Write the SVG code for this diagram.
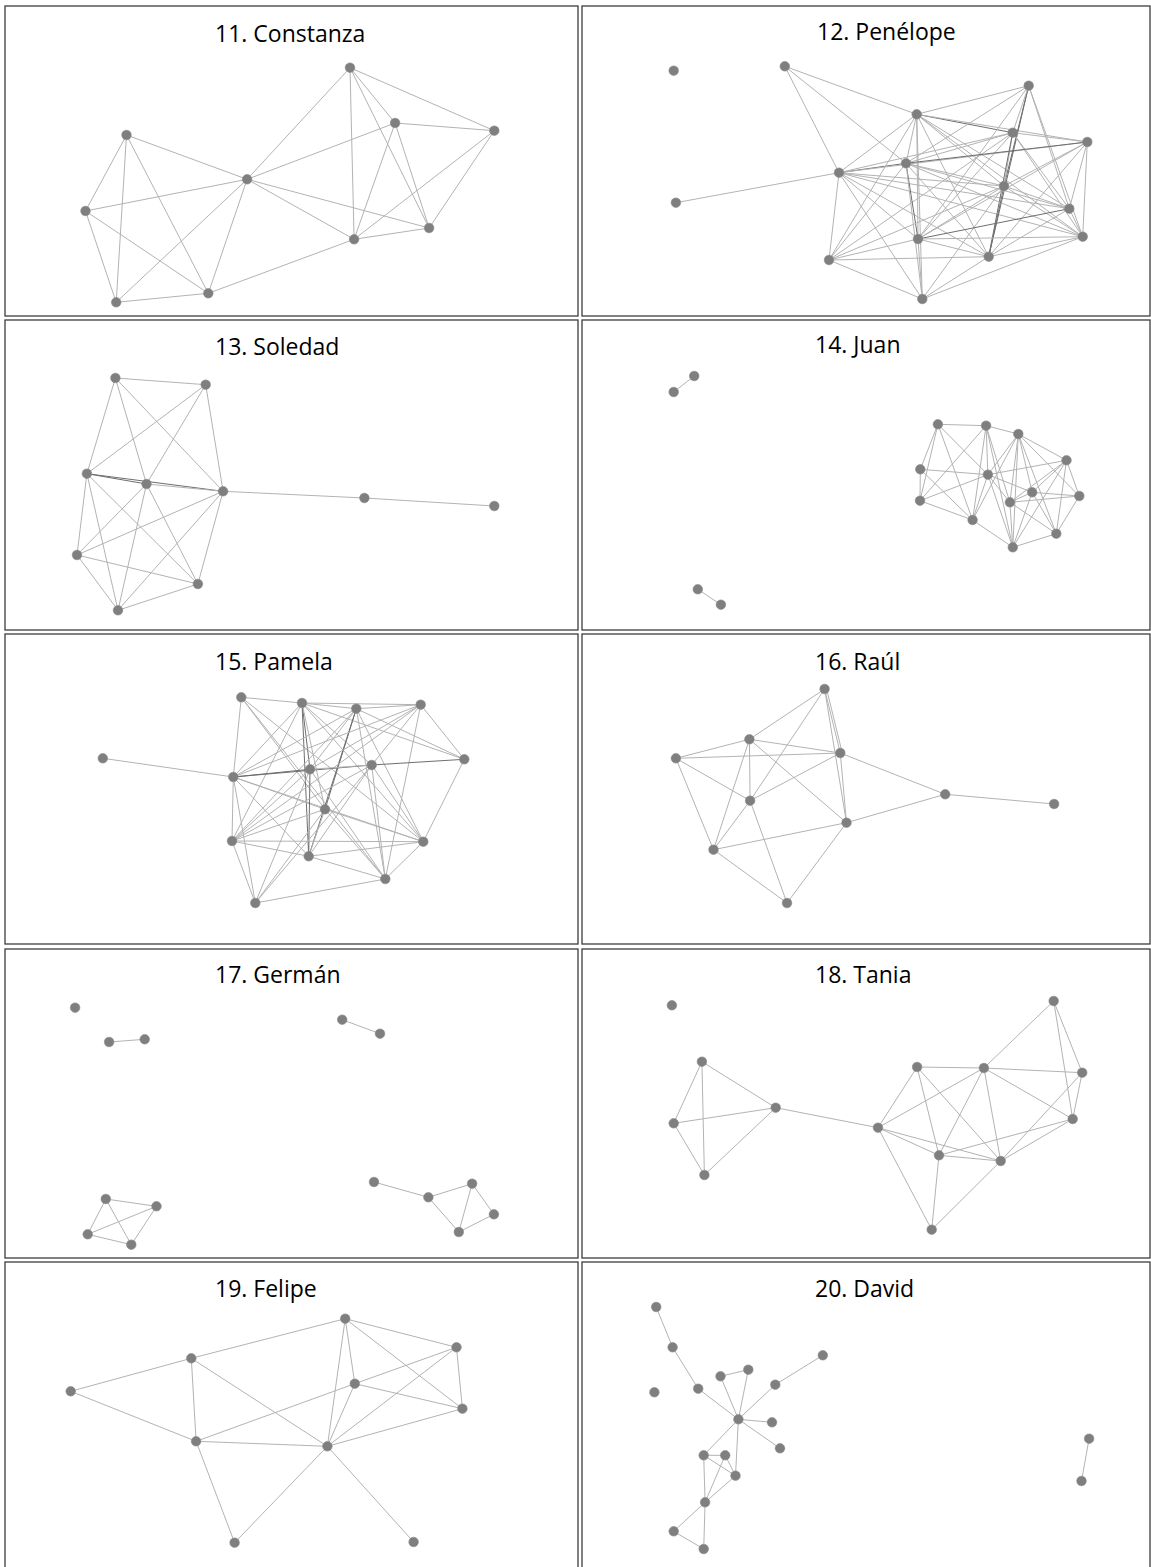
<svg xmlns="http://www.w3.org/2000/svg" width="1151" height="1567" viewBox="0 0 1151 1567">
<style>
.frame{fill:none;stroke:#3c3c3c;stroke-width:1.3}
.t{font-family:"Open Sans","Liberation Sans",sans-serif;font-size:23px;fill:#000}
.edges line{stroke:#b3b3b3;stroke-width:1}
.edges line.d{stroke:#6e6e6e}
.n{fill:#7f7f7f;stroke:#8a8a8a;stroke-width:0.6}
</style>
<rect width="1151" height="1567" fill="#fff"/>
<g id="frames">
<rect class="frame" x="5" y="6" width="573" height="310"/>
<rect class="frame" x="582" y="6" width="568" height="310"/>
<rect class="frame" x="5" y="320" width="573" height="310"/>
<rect class="frame" x="582" y="320" width="568" height="310"/>
<rect class="frame" x="5" y="634" width="573" height="310"/>
<rect class="frame" x="582" y="634" width="568" height="310"/>
<rect class="frame" x="5" y="949" width="573" height="309"/>
<rect class="frame" x="582" y="949" width="568" height="309"/>
<rect class="frame" x="5" y="1262" width="573" height="310"/>
<rect class="frame" x="582" y="1262" width="568" height="310"/>
</g>
<g id="titles">
<text class="t" x="215" y="42">11. Constanza</text>
<text class="t" x="817" y="40">12. Penélope</text>
<text class="t" x="215" y="355">13. Soledad</text>
<text class="t" x="815" y="353">14. Juan</text>
<text class="t" x="215" y="670">15. Pamela</text>
<text class="t" x="815" y="670">16. Raúl</text>
<text class="t" x="215" y="983">17. Germán</text>
<text class="t" x="815" y="983">18. Tania</text>
<text class="t" x="215" y="1297">19. Felipe</text>
<text class="t" x="815" y="1297">20. David</text>
</g>
<g id="connectors" class="edges">
<!-- 11 Constanza -->
<line x1="350" y1="67.7" x2="247.1" y2="179.3"/>
<line x1="350" y1="67.7" x2="354.1" y2="239.3"/>
<line x1="350" y1="67.7" x2="395.1" y2="123"/>
<line x1="350" y1="67.7" x2="494.3" y2="130.7"/>
<line x1="350" y1="67.7" x2="429.1" y2="228"/>
<line x1="395.1" y1="123" x2="494.3" y2="130.7"/>
<line x1="395.1" y1="123" x2="247.1" y2="179.3"/>
<line x1="395.1" y1="123" x2="354.1" y2="239.3"/>
<line x1="395.1" y1="123" x2="429.1" y2="228"/>
<line x1="494.3" y1="130.7" x2="354.1" y2="239.3"/>
<line x1="494.3" y1="130.7" x2="429.1" y2="228"/>
<line x1="247.1" y1="179.3" x2="354.1" y2="239.3"/>
<line x1="247.1" y1="179.3" x2="429.1" y2="228"/>
<line x1="354.1" y1="239.3" x2="429.1" y2="228"/>
<line x1="354.1" y1="239.3" x2="208.3" y2="293.3"/>
<line x1="126.5" y1="135" x2="247.1" y2="179.3"/>
<line x1="126.5" y1="135" x2="85.5" y2="211"/>
<line x1="126.5" y1="135" x2="116.2" y2="302.3"/>
<line x1="126.5" y1="135" x2="208.3" y2="293.3"/>
<line x1="85.5" y1="211" x2="247.1" y2="179.3"/>
<line x1="85.5" y1="211" x2="208.3" y2="293.3"/>
<line x1="85.5" y1="211" x2="116.2" y2="302.3"/>
<line x1="247.1" y1="179.3" x2="116.2" y2="302.3"/>
<line x1="247.1" y1="179.3" x2="208.3" y2="293.3"/>
<line x1="116.2" y1="302.3" x2="208.3" y2="293.3"/>
<!-- 12 Penelope -->
<line x1="784.8" y1="66.3" x2="916.7" y2="114.3"/>
<line x1="784.8" y1="66.3" x2="839" y2="172.7"/>
<line x1="784.8" y1="66.3" x2="906" y2="163.3"/>
<line x1="675.9" y1="202.7" x2="839" y2="172.7"/>
<line x1="839" y1="172.7" x2="916.7" y2="114.3"/>
<line class="d" x1="839" y1="172.7" x2="906" y2="163.3"/>
<line x1="839" y1="172.7" x2="1012.7" y2="132.7"/>
<line x1="839" y1="172.7" x2="1004" y2="186"/>
<line x1="839" y1="172.7" x2="1069.3" y2="208.7"/>
<line x1="839" y1="172.7" x2="1082.7" y2="236.7"/>
<line x1="839" y1="172.7" x2="918" y2="239"/>
<line x1="839" y1="172.7" x2="988.7" y2="256.7"/>
<line x1="839" y1="172.7" x2="829" y2="260"/>
<line x1="839" y1="172.7" x2="922.3" y2="299"/>
<line x1="839" y1="172.7" x2="1087.3" y2="142"/>
<line x1="916.7" y1="114.3" x2="1028.7" y2="85.7"/>
<line class="d" x1="916.7" y1="114.3" x2="1012.7" y2="132.7"/>
<line x1="916.7" y1="114.3" x2="1087.3" y2="142"/>
<line x1="916.7" y1="114.3" x2="918" y2="239"/>
<line x1="916.7" y1="114.3" x2="988.7" y2="256.7"/>
<line x1="916.7" y1="114.3" x2="922.3" y2="299"/>
<line x1="916.7" y1="114.3" x2="829" y2="260"/>
<line x1="916.7" y1="114.3" x2="1004" y2="186"/>
<line x1="916.7" y1="114.3" x2="1069.3" y2="208.7"/>
<line x1="916.7" y1="114.3" x2="1082.7" y2="236.7"/>
<line x1="916.7" y1="114.3" x2="906" y2="163.3"/>
<line x1="1028.7" y1="85.7" x2="906" y2="163.3"/>
<line x1="1028.7" y1="85.7" x2="918" y2="239"/>
<line class="d" x1="1028.7" y1="85.7" x2="1004" y2="186"/>
<line class="d" x1="1028.7" y1="85.7" x2="988.7" y2="256.7"/>
<line x1="1028.7" y1="85.7" x2="1069.3" y2="208.7"/>
<line x1="1028.7" y1="85.7" x2="1082.7" y2="236.7"/>
<line x1="1028.7" y1="85.7" x2="1012.7" y2="132.7"/>
<line x1="1012.7" y1="132.7" x2="1087.3" y2="142"/>
<line x1="1012.7" y1="132.7" x2="906" y2="163.3"/>
<line x1="1012.7" y1="132.7" x2="1004" y2="186"/>
<line x1="1012.7" y1="132.7" x2="1069.3" y2="208.7"/>
<line x1="1012.7" y1="132.7" x2="1082.7" y2="236.7"/>
<line x1="1012.7" y1="132.7" x2="918" y2="239"/>
<line class="d" x1="1012.7" y1="132.7" x2="988.7" y2="256.7"/>
<line x1="1012.7" y1="132.7" x2="829" y2="260"/>
<line class="d" x1="1087.3" y1="142" x2="906" y2="163.3"/>
<line x1="1087.3" y1="142" x2="1004" y2="186"/>
<line x1="1087.3" y1="142" x2="1069.3" y2="208.7"/>
<line x1="1087.3" y1="142" x2="1082.7" y2="236.7"/>
<line x1="1087.3" y1="142" x2="918" y2="239"/>
<line x1="1087.3" y1="142" x2="988.7" y2="256.7"/>
<line x1="906" y1="163.3" x2="1004" y2="186"/>
<line x1="906" y1="163.3" x2="1069.3" y2="208.7"/>
<line x1="906" y1="163.3" x2="1082.7" y2="236.7"/>
<line class="d" x1="906" y1="163.3" x2="918" y2="239"/>
<line x1="906" y1="163.3" x2="988.7" y2="256.7"/>
<line x1="906" y1="163.3" x2="829" y2="260"/>
<line x1="906" y1="163.3" x2="922.3" y2="299"/>
<line x1="1004" y1="186" x2="1069.3" y2="208.7"/>
<line x1="1004" y1="186" x2="1082.7" y2="236.7"/>
<line x1="1004" y1="186" x2="918" y2="239"/>
<line class="d" x1="1004" y1="186" x2="988.7" y2="256.7"/>
<line x1="1004" y1="186" x2="829" y2="260"/>
<line x1="1004" y1="186" x2="922.3" y2="299"/>
<line class="d" x1="1069.3" y1="208.7" x2="918" y2="239"/>
<line x1="1069.3" y1="208.7" x2="1082.7" y2="236.7"/>
<line x1="1069.3" y1="208.7" x2="988.7" y2="256.7"/>
<line x1="1082.7" y1="236.7" x2="988.7" y2="256.7"/>
<line x1="1082.7" y1="236.7" x2="922.3" y2="299"/>
<line x1="1082.7" y1="236.7" x2="918" y2="239"/>
<line x1="918" y1="239" x2="829" y2="260"/>
<line x1="918" y1="239" x2="922.3" y2="299"/>
<line x1="918" y1="239" x2="988.7" y2="256.7"/>
<line x1="988.7" y1="256.7" x2="829" y2="260"/>
<line x1="988.7" y1="256.7" x2="922.3" y2="299"/>
<line x1="829" y1="260" x2="922.3" y2="299"/>
<!-- 13 Soledad -->
<line x1="115.4" y1="378" x2="205.7" y2="384.7"/>
<line x1="115.4" y1="378" x2="86.9" y2="473.7"/>
<line x1="115.4" y1="378" x2="146.5" y2="484"/>
<line x1="115.4" y1="378" x2="223.1" y2="491.3"/>
<line x1="205.7" y1="384.7" x2="86.9" y2="473.7"/>
<line x1="205.7" y1="384.7" x2="146.5" y2="484"/>
<line x1="205.7" y1="384.7" x2="223.1" y2="491.3"/>
<line class="d" x1="86.9" y1="473.7" x2="146.5" y2="484"/>
<line class="d" x1="86.9" y1="473.7" x2="223.1" y2="491.3"/>
<line x1="146.5" y1="484" x2="223.1" y2="491.3"/>
<line x1="223.1" y1="491.3" x2="364.4" y2="498"/>
<line x1="364.4" y1="498" x2="494.3" y2="506"/>
<line x1="86.9" y1="473.7" x2="77" y2="555"/>
<line x1="86.9" y1="473.7" x2="118" y2="610.3"/>
<line x1="86.9" y1="473.7" x2="197.9" y2="584"/>
<line x1="146.5" y1="484" x2="77" y2="555"/>
<line x1="146.5" y1="484" x2="118" y2="610.3"/>
<line x1="146.5" y1="484" x2="197.9" y2="584"/>
<line x1="223.1" y1="491.3" x2="77" y2="555"/>
<line x1="223.1" y1="491.3" x2="197.9" y2="584"/>
<line x1="223.1" y1="491.3" x2="118" y2="610.3"/>
<line x1="77" y1="555" x2="197.9" y2="584"/>
<line x1="77" y1="555" x2="118" y2="610.3"/>
<line x1="118" y1="610.3" x2="197.9" y2="584"/>
<!-- 14 Juan -->
<line x1="694.2" y1="376" x2="673.7" y2="392"/>
<line x1="697.8" y1="589.3" x2="720.9" y2="604.7"/>
<line x1="937.9" y1="424.3" x2="986.1" y2="425.7"/>
<line x1="937.9" y1="424.3" x2="920.3" y2="469.3"/>
<line x1="937.9" y1="424.3" x2="920" y2="500.7"/>
<line x1="937.9" y1="424.3" x2="972.6" y2="520"/>
<line x1="937.9" y1="424.3" x2="987.9" y2="474.7"/>
<line x1="986.1" y1="425.7" x2="1018.3" y2="434"/>
<line x1="986.1" y1="425.7" x2="920" y2="500.7"/>
<line x1="986.1" y1="425.7" x2="987.9" y2="474.7"/>
<line x1="986.1" y1="425.7" x2="972.6" y2="520"/>
<line x1="986.1" y1="425.7" x2="1012.8" y2="547.3"/>
<line x1="986.1" y1="425.7" x2="1009.9" y2="502.3"/>
<line x1="1018.3" y1="434" x2="1066.5" y2="460.3"/>
<line x1="1018.3" y1="434" x2="987.9" y2="474.7"/>
<line x1="1018.3" y1="434" x2="1032.2" y2="492.3"/>
<line x1="1018.3" y1="434" x2="1079.3" y2="496"/>
<line x1="1018.3" y1="434" x2="1009.9" y2="502.3"/>
<line x1="1018.3" y1="434" x2="1056.3" y2="533.7"/>
<line x1="1018.3" y1="434" x2="1012.8" y2="547.3"/>
<line x1="1018.3" y1="434" x2="972.6" y2="520"/>
<line x1="1066.5" y1="460.3" x2="987.9" y2="474.7"/>
<line x1="1066.5" y1="460.3" x2="1079.3" y2="496"/>
<line x1="1066.5" y1="460.3" x2="1032.2" y2="492.3"/>
<line x1="1066.5" y1="460.3" x2="1009.9" y2="502.3"/>
<line x1="1066.5" y1="460.3" x2="1056.3" y2="533.7"/>
<line x1="1066.5" y1="460.3" x2="1012.8" y2="547.3"/>
<line x1="920.3" y1="469.3" x2="987.9" y2="474.7"/>
<line x1="920.3" y1="469.3" x2="920" y2="500.7"/>
<line x1="920.3" y1="469.3" x2="972.6" y2="520"/>
<line x1="920" y1="500.7" x2="987.9" y2="474.7"/>
<line x1="920" y1="500.7" x2="972.6" y2="520"/>
<line x1="987.9" y1="474.7" x2="972.6" y2="520"/>
<line x1="987.9" y1="474.7" x2="1009.9" y2="502.3"/>
<line x1="987.9" y1="474.7" x2="1012.8" y2="547.3"/>
<line x1="987.9" y1="474.7" x2="1032.2" y2="492.3"/>
<line x1="1032.2" y1="492.3" x2="1079.3" y2="496"/>
<line x1="1032.2" y1="492.3" x2="1009.9" y2="502.3"/>
<line x1="1032.2" y1="492.3" x2="1056.3" y2="533.7"/>
<line x1="1032.2" y1="492.3" x2="1012.8" y2="547.3"/>
<line x1="1079.3" y1="496" x2="1009.9" y2="502.3"/>
<line x1="1079.3" y1="496" x2="1056.3" y2="533.7"/>
<line x1="1009.9" y1="502.3" x2="1012.8" y2="547.3"/>
<line x1="1009.9" y1="502.3" x2="1056.3" y2="533.7"/>
<line x1="972.6" y1="520" x2="1012.8" y2="547.3"/>
<line x1="1056.3" y1="533.7" x2="1012.8" y2="547.3"/>
<!-- 15 Pamela -->
<line x1="102.8" y1="758.3" x2="233.3" y2="777"/>
<line x1="241.3" y1="697.3" x2="302" y2="703"/>
<line x1="241.3" y1="697.3" x2="233.3" y2="777"/>
<line x1="241.3" y1="697.3" x2="325" y2="809.3"/>
<line x1="241.3" y1="697.3" x2="385.3" y2="879"/>
<line x1="241.3" y1="697.3" x2="423.3" y2="841.7"/>
<line x1="302" y1="703" x2="420.7" y2="704.7"/>
<line x1="302" y1="703" x2="356.3" y2="708.7"/>
<line x1="302" y1="703" x2="233.3" y2="777"/>
<line class="d" x1="302" y1="703" x2="310" y2="769.3"/>
<line class="d" x1="302" y1="703" x2="308.7" y2="856.3"/>
<line x1="302" y1="703" x2="325" y2="809.3"/>
<line x1="302" y1="703" x2="371.7" y2="765"/>
<line x1="302" y1="703" x2="423.3" y2="841.7"/>
<line x1="302" y1="703" x2="232" y2="841"/>
<line x1="302" y1="703" x2="464.3" y2="759.3"/>
<line x1="356.3" y1="708.7" x2="420.7" y2="704.7"/>
<line x1="356.3" y1="708.7" x2="233.3" y2="777"/>
<line x1="356.3" y1="708.7" x2="310" y2="769.3"/>
<line class="d" x1="356.3" y1="708.7" x2="325" y2="809.3"/>
<line x1="356.3" y1="708.7" x2="232" y2="841"/>
<line class="d" x1="356.3" y1="708.7" x2="308.7" y2="856.3"/>
<line x1="356.3" y1="708.7" x2="385.3" y2="879"/>
<line x1="356.3" y1="708.7" x2="464.3" y2="759.3"/>
<line x1="356.3" y1="708.7" x2="423.3" y2="841.7"/>
<line x1="420.7" y1="704.7" x2="233.3" y2="777"/>
<line x1="420.7" y1="704.7" x2="310" y2="769.3"/>
<line x1="420.7" y1="704.7" x2="371.7" y2="765"/>
<line x1="420.7" y1="704.7" x2="232" y2="841"/>
<line x1="420.7" y1="704.7" x2="385.3" y2="879"/>
<line x1="420.7" y1="704.7" x2="464.3" y2="759.3"/>
<line class="d" x1="464.3" y1="759.3" x2="371.7" y2="765"/>
<line x1="464.3" y1="759.3" x2="423.3" y2="841.7"/>
<line class="d" x1="233.3" y1="777" x2="310" y2="769.3"/>
<line class="d" x1="233.3" y1="777" x2="371.7" y2="765"/>
<line x1="233.3" y1="777" x2="325" y2="809.3"/>
<line x1="233.3" y1="777" x2="232" y2="841"/>
<line x1="233.3" y1="777" x2="423.3" y2="841.7"/>
<line x1="233.3" y1="777" x2="308.7" y2="856.3"/>
<line x1="233.3" y1="777" x2="255.3" y2="903"/>
<line x1="310" y1="769.3" x2="371.7" y2="765"/>
<line class="d" x1="310" y1="769.3" x2="308.7" y2="856.3"/>
<line x1="310" y1="769.3" x2="232" y2="841"/>
<line x1="310" y1="769.3" x2="385.3" y2="879"/>
<line x1="310" y1="769.3" x2="255.3" y2="903"/>
<line x1="371.7" y1="765" x2="232" y2="841"/>
<line x1="371.7" y1="765" x2="308.7" y2="856.3"/>
<line x1="371.7" y1="765" x2="255.3" y2="903"/>
<line x1="371.7" y1="765" x2="385.3" y2="879"/>
<line x1="371.7" y1="765" x2="423.3" y2="841.7"/>
<line x1="325" y1="809.3" x2="232" y2="841"/>
<line x1="325" y1="809.3" x2="423.3" y2="841.7"/>
<line x1="325" y1="809.3" x2="385.3" y2="879"/>
<line x1="325" y1="809.3" x2="308.7" y2="856.3"/>
<line x1="325" y1="809.3" x2="255.3" y2="903"/>
<line x1="232" y1="841" x2="423.3" y2="841.7"/>
<line x1="232" y1="841" x2="308.7" y2="856.3"/>
<line x1="232" y1="841" x2="255.3" y2="903"/>
<line x1="423.3" y1="841.7" x2="308.7" y2="856.3"/>
<line x1="423.3" y1="841.7" x2="385.3" y2="879"/>
<line x1="308.7" y1="856.3" x2="385.3" y2="879"/>
<line x1="385.3" y1="879" x2="255.3" y2="903"/>
<!-- 16 Raul -->
<line x1="824.6" y1="689" x2="749.4" y2="739.3"/>
<line x1="824.6" y1="689" x2="840.3" y2="753"/>
<line x1="826.6" y1="689" x2="842.3" y2="753"/>
<line x1="824.6" y1="689" x2="846.5" y2="822.7"/>
<line x1="824.6" y1="689" x2="750.1" y2="800.7"/>
<line x1="749.4" y1="739.3" x2="675.9" y2="758.3"/>
<line x1="749.4" y1="739.3" x2="840.3" y2="753"/>
<line x1="749.4" y1="739.3" x2="750.1" y2="800.7"/>
<line x1="749.4" y1="739.3" x2="713.5" y2="849.7"/>
<line x1="749.4" y1="739.3" x2="846.5" y2="822.7"/>
<line x1="675.9" y1="758.3" x2="840.3" y2="753"/>
<line x1="675.9" y1="758.3" x2="750.1" y2="800.7"/>
<line x1="675.9" y1="758.3" x2="713.5" y2="849.7"/>
<line x1="840.3" y1="753" x2="750.1" y2="800.7"/>
<line x1="840.3" y1="753" x2="945.2" y2="794.3"/>
<line x1="840.3" y1="753" x2="846.5" y2="822.7"/>
<line x1="750.1" y1="800.7" x2="713.5" y2="849.7"/>
<line x1="750.1" y1="800.7" x2="787" y2="903"/>
<line x1="945.2" y1="794.3" x2="1054.1" y2="804"/>
<line x1="945.2" y1="794.3" x2="846.5" y2="822.7"/>
<line x1="846.5" y1="822.7" x2="713.5" y2="849.7"/>
<line x1="846.5" y1="822.7" x2="787" y2="903"/>
<line x1="713.5" y1="849.7" x2="787" y2="903"/>
<!-- 17 German -->
<line x1="109.1" y1="1042" x2="144.7" y2="1039.3"/>
<line x1="342.2" y1="1019.7" x2="380" y2="1033.7"/>
<line x1="105.8" y1="1199" x2="156.5" y2="1206.3"/>
<line x1="105.8" y1="1199" x2="87.7" y2="1234.3"/>
<line x1="105.8" y1="1199" x2="131.3" y2="1244.7"/>
<line x1="156.5" y1="1206.3" x2="87.7" y2="1234.3"/>
<line x1="156.5" y1="1206.3" x2="131.3" y2="1244.7"/>
<line x1="87.7" y1="1234.3" x2="131.3" y2="1244.7"/>
<line x1="374" y1="1182" x2="428.4" y2="1197.3"/>
<line x1="428.4" y1="1197.3" x2="472.1" y2="1183.7"/>
<line x1="428.4" y1="1197.3" x2="458.8" y2="1232"/>
<line x1="472.1" y1="1183.7" x2="493.9" y2="1214.3"/>
<line x1="472.1" y1="1183.7" x2="458.8" y2="1232"/>
<line x1="493.9" y1="1214.3" x2="458.8" y2="1232"/>
<!-- 18 Tania -->
<line x1="701.9" y1="1061.7" x2="673.7" y2="1123.3"/>
<line x1="701.9" y1="1061.7" x2="704.4" y2="1175"/>
<line x1="701.9" y1="1061.7" x2="775.7" y2="1107.7"/>
<line x1="673.7" y1="1123.3" x2="775.7" y2="1107.7"/>
<line x1="673.7" y1="1123.3" x2="704.4" y2="1175"/>
<line x1="775.7" y1="1107.7" x2="704.4" y2="1175"/>
<line x1="775.7" y1="1107.7" x2="878" y2="1127.7"/>
<line x1="878" y1="1127.7" x2="917.1" y2="1067"/>
<line x1="878" y1="1127.7" x2="983.9" y2="1068"/>
<line x1="878" y1="1127.7" x2="939" y2="1155.3"/>
<line x1="878" y1="1127.7" x2="1000.7" y2="1161"/>
<line x1="878" y1="1127.7" x2="931.7" y2="1229.7"/>
<line x1="917.1" y1="1067" x2="983.9" y2="1068"/>
<line x1="917.1" y1="1067" x2="939" y2="1155.3"/>
<line x1="917.1" y1="1067" x2="1000.7" y2="1161"/>
<line x1="983.9" y1="1068" x2="1053.7" y2="1001"/>
<line x1="983.9" y1="1068" x2="1082.2" y2="1072.7"/>
<line x1="983.9" y1="1068" x2="939" y2="1155.3"/>
<line x1="983.9" y1="1068" x2="1000.7" y2="1161"/>
<line x1="983.9" y1="1068" x2="1072.7" y2="1119"/>
<line x1="1053.7" y1="1001" x2="1082.2" y2="1072.7"/>
<line x1="1053.7" y1="1001" x2="1072.7" y2="1119"/>
<line x1="1082.2" y1="1072.7" x2="1072.7" y2="1119"/>
<line x1="1082.2" y1="1072.7" x2="1000.7" y2="1161"/>
<line x1="1072.7" y1="1119" x2="939" y2="1155.3"/>
<line x1="1072.7" y1="1119" x2="1000.7" y2="1161"/>
<line x1="939" y1="1155.3" x2="1000.7" y2="1161"/>
<line x1="939" y1="1155.3" x2="931.7" y2="1229.7"/>
<line x1="1000.7" y1="1161" x2="931.7" y2="1229.7"/>
<!-- 19 Felipe -->
<line x1="345.2" y1="1318.7" x2="191.3" y2="1358.3"/>
<line x1="345.2" y1="1318.7" x2="456.5" y2="1347.3"/>
<line x1="345.2" y1="1318.7" x2="354.8" y2="1383.7"/>
<line x1="345.2" y1="1318.7" x2="327.4" y2="1446.3"/>
<line x1="345.2" y1="1318.7" x2="462.4" y2="1408.7"/>
<line x1="191.3" y1="1358.3" x2="70.7" y2="1391.3"/>
<line x1="191.3" y1="1358.3" x2="196.1" y2="1441.3"/>
<line x1="191.3" y1="1358.3" x2="327.4" y2="1446.3"/>
<line x1="70.7" y1="1391.3" x2="196.1" y2="1441.3"/>
<line x1="196.1" y1="1441.3" x2="327.4" y2="1446.3"/>
<line x1="196.1" y1="1441.3" x2="354.8" y2="1383.7"/>
<line x1="354.8" y1="1383.7" x2="456.5" y2="1347.3"/>
<line x1="354.8" y1="1383.7" x2="327.4" y2="1446.3"/>
<line x1="354.8" y1="1383.7" x2="462.4" y2="1408.7"/>
<line x1="456.5" y1="1347.3" x2="462.4" y2="1408.7"/>
<line x1="456.5" y1="1347.3" x2="327.4" y2="1446.3"/>
<line x1="462.4" y1="1408.7" x2="327.4" y2="1446.3"/>
<line x1="196.1" y1="1441.3" x2="234.6" y2="1542.7"/>
<line x1="327.4" y1="1446.3" x2="234.6" y2="1542.7"/>
<line x1="327.4" y1="1446.3" x2="413.6" y2="1542"/>
<!-- 20 David -->
<line x1="656.2" y1="1307" x2="672.6" y2="1347.3"/>
<line x1="672.6" y1="1347.3" x2="698.2" y2="1388.7"/>
<line x1="698.2" y1="1388.7" x2="738.4" y2="1419.3"/>
<line x1="720.5" y1="1376.3" x2="748.3" y2="1369.7"/>
<line x1="720.5" y1="1376.3" x2="738.4" y2="1419.3"/>
<line x1="748.3" y1="1369.7" x2="738.4" y2="1419.3"/>
<line x1="775.3" y1="1384.7" x2="822.8" y2="1355.3"/>
<line x1="775.3" y1="1384.7" x2="738.4" y2="1419.3"/>
<line x1="738.4" y1="1419.3" x2="772" y2="1422.3"/>
<line x1="738.4" y1="1419.3" x2="780" y2="1448.3"/>
<line x1="738.4" y1="1419.3" x2="703.7" y2="1455.3"/>
<line x1="738.4" y1="1419.3" x2="735.5" y2="1475.7"/>
<line x1="703.7" y1="1455.3" x2="725.2" y2="1455.3"/>
<line x1="703.7" y1="1455.3" x2="735.5" y2="1475.7"/>
<line x1="703.7" y1="1455.3" x2="705.1" y2="1502.3"/>
<line x1="725.2" y1="1455.3" x2="735.5" y2="1475.7"/>
<line x1="725.2" y1="1455.3" x2="705.1" y2="1502.3"/>
<line x1="735.5" y1="1475.7" x2="705.1" y2="1502.3"/>
<line x1="705.1" y1="1502.3" x2="673.7" y2="1531.3"/>
<line x1="705.1" y1="1502.3" x2="703.7" y2="1549"/>
<line x1="673.7" y1="1531.3" x2="703.7" y2="1549"/>
<line x1="1089.1" y1="1438.7" x2="1081.5" y2="1481"/>
</g>
<g id="nodes11">
<g id="n11a"><circle class="n" cx="350" cy="67.7" r="4.8"/></g>
<g id="n11b"><circle class="n" cx="395.1" cy="123" r="4.8"/></g>
<g id="n11c"><circle class="n" cx="494.3" cy="130.7" r="4.8"/></g>
<g id="n11d"><circle class="n" cx="126.5" cy="135" r="4.8"/></g>
<g id="n11e"><circle class="n" cx="247.1" cy="179.3" r="4.8"/></g>
<g id="n11f"><circle class="n" cx="85.5" cy="211" r="4.8"/></g>
<g id="n11g"><circle class="n" cx="354.1" cy="239.3" r="4.8"/></g>
<g id="n11h"><circle class="n" cx="429.1" cy="228" r="4.8"/></g>
<g id="n11i"><circle class="n" cx="208.3" cy="293.3" r="4.8"/></g>
<g id="n11j"><circle class="n" cx="116.2" cy="302.3" r="4.8"/></g>
</g>
<g id="nodes12">
<g id="n12a"><circle class="n" cx="673.7" cy="70.7" r="4.8"/></g>
<g id="n12b"><circle class="n" cx="784.8" cy="66.3" r="4.8"/></g>
<g id="n12c"><circle class="n" cx="675.9" cy="202.7" r="4.8"/></g>
<g id="n12d"><circle class="n" cx="916.7" cy="114.3" r="4.8"/></g>
<g id="n12e"><circle class="n" cx="1028.7" cy="85.7" r="4.8"/></g>
<g id="n12f"><circle class="n" cx="1012.7" cy="132.7" r="4.8"/></g>
<g id="n12g"><circle class="n" cx="1087.3" cy="142" r="4.8"/></g>
<g id="n12h"><circle class="n" cx="906" cy="163.3" r="4.8"/></g>
<g id="n12i"><circle class="n" cx="839" cy="172.7" r="4.8"/></g>
<g id="n12j"><circle class="n" cx="1004" cy="186" r="4.8"/></g>
<g id="n12k"><circle class="n" cx="1069.3" cy="208.7" r="4.8"/></g>
<g id="n12l"><circle class="n" cx="1082.7" cy="236.7" r="4.8"/></g>
<g id="n12m"><circle class="n" cx="918" cy="239" r="4.8"/></g>
<g id="n12n"><circle class="n" cx="988.7" cy="256.7" r="4.8"/></g>
<g id="n12o"><circle class="n" cx="829" cy="260" r="4.8"/></g>
<g id="n12p"><circle class="n" cx="922.3" cy="299" r="4.8"/></g>
</g>
<g id="nodes13">
<g id="n13a"><circle class="n" cx="115.4" cy="378" r="4.8"/></g>
<g id="n13b"><circle class="n" cx="205.7" cy="384.7" r="4.8"/></g>
<g id="n13c"><circle class="n" cx="86.9" cy="473.7" r="4.8"/></g>
<g id="n13d"><circle class="n" cx="146.5" cy="484" r="4.8"/></g>
<g id="n13e"><circle class="n" cx="223.1" cy="491.3" r="4.8"/></g>
<g id="n13f"><circle class="n" cx="364.4" cy="498" r="4.8"/></g>
<g id="n13g"><circle class="n" cx="494.3" cy="506" r="4.8"/></g>
<g id="n13h"><circle class="n" cx="77" cy="555" r="4.8"/></g>
<g id="n13i"><circle class="n" cx="197.9" cy="584" r="4.8"/></g>
<g id="n13j"><circle class="n" cx="118" cy="610.3" r="4.8"/></g>
</g>
<g id="nodes14">
<g id="n14a"><circle class="n" cx="694.2" cy="376" r="4.8"/></g>
<g id="n14b"><circle class="n" cx="673.7" cy="392" r="4.8"/></g>
<g id="n14c"><circle class="n" cx="697.8" cy="589.3" r="4.8"/></g>
<g id="n14d"><circle class="n" cx="720.9" cy="604.7" r="4.8"/></g>
<g id="n14e"><circle class="n" cx="937.9" cy="424.3" r="4.8"/></g>
<g id="n14f"><circle class="n" cx="986.1" cy="425.7" r="4.8"/></g>
<g id="n14g"><circle class="n" cx="1018.3" cy="434" r="4.8"/></g>
<g id="n14h"><circle class="n" cx="1066.5" cy="460.3" r="4.8"/></g>
<g id="n14i"><circle class="n" cx="920.3" cy="469.3" r="4.8"/></g>
<g id="n14j"><circle class="n" cx="987.9" cy="474.7" r="4.8"/></g>
<g id="n14k"><circle class="n" cx="1032.2" cy="492.3" r="4.8"/></g>
<g id="n14l"><circle class="n" cx="1079.3" cy="496" r="4.8"/></g>
<g id="n14m"><circle class="n" cx="1009.9" cy="502.3" r="4.8"/></g>
<g id="n14n"><circle class="n" cx="920" cy="500.7" r="4.8"/></g>
<g id="n14o"><circle class="n" cx="972.6" cy="520" r="4.8"/></g>
<g id="n14p"><circle class="n" cx="1056.3" cy="533.7" r="4.8"/></g>
<g id="n14q"><circle class="n" cx="1012.8" cy="547.3" r="4.8"/></g>
</g>
<g id="nodes15">
<g id="n15a"><circle class="n" cx="102.8" cy="758.3" r="4.8"/></g>
<g id="n15b"><circle class="n" cx="241.3" cy="697.3" r="4.8"/></g>
<g id="n15c"><circle class="n" cx="302" cy="703" r="4.8"/></g>
<g id="n15d"><circle class="n" cx="356.3" cy="708.7" r="4.8"/></g>
<g id="n15e"><circle class="n" cx="420.7" cy="704.7" r="4.8"/></g>
<g id="n15f"><circle class="n" cx="464.3" cy="759.3" r="4.8"/></g>
<g id="n15g"><circle class="n" cx="233.3" cy="777" r="4.8"/></g>
<g id="n15h"><circle class="n" cx="310" cy="769.3" r="4.8"/></g>
<g id="n15i"><circle class="n" cx="371.7" cy="765" r="4.8"/></g>
<g id="n15j"><circle class="n" cx="325" cy="809.3" r="4.8"/></g>
<g id="n15k"><circle class="n" cx="232" cy="841" r="4.8"/></g>
<g id="n15l"><circle class="n" cx="423.3" cy="841.7" r="4.8"/></g>
<g id="n15m"><circle class="n" cx="308.7" cy="856.3" r="4.8"/></g>
<g id="n15n"><circle class="n" cx="385.3" cy="879" r="4.8"/></g>
<g id="n15o"><circle class="n" cx="255.3" cy="903" r="4.8"/></g>
</g>
<g id="nodes16">
<g id="n16a"><circle class="n" cx="824.6" cy="689" r="4.8"/></g>
<g id="n16b"><circle class="n" cx="749.4" cy="739.3" r="4.8"/></g>
<g id="n16c"><circle class="n" cx="675.9" cy="758.3" r="4.8"/></g>
<g id="n16d"><circle class="n" cx="840.3" cy="753" r="4.8"/></g>
<g id="n16e"><circle class="n" cx="750.1" cy="800.7" r="4.8"/></g>
<g id="n16f"><circle class="n" cx="945.2" cy="794.3" r="4.8"/></g>
<g id="n16g"><circle class="n" cx="1054.1" cy="804" r="4.8"/></g>
<g id="n16h"><circle class="n" cx="846.5" cy="822.7" r="4.8"/></g>
<g id="n16i"><circle class="n" cx="713.5" cy="849.7" r="4.8"/></g>
<g id="n16j"><circle class="n" cx="787" cy="903" r="4.8"/></g>
</g>
<g id="nodes17">
<g id="n17a"><circle class="n" cx="75.1" cy="1007.7" r="4.8"/></g>
<g id="n17b"><circle class="n" cx="109.1" cy="1042" r="4.8"/></g>
<g id="n17c"><circle class="n" cx="144.7" cy="1039.3" r="4.8"/></g>
<g id="n17d"><circle class="n" cx="342.2" cy="1019.7" r="4.8"/></g>
<g id="n17e"><circle class="n" cx="380" cy="1033.7" r="4.8"/></g>
<g id="n17f"><circle class="n" cx="105.8" cy="1199" r="4.8"/></g>
<g id="n17g"><circle class="n" cx="156.5" cy="1206.3" r="4.8"/></g>
<g id="n17h"><circle class="n" cx="87.7" cy="1234.3" r="4.8"/></g>
<g id="n17i"><circle class="n" cx="131.3" cy="1244.7" r="4.8"/></g>
<g id="n17j"><circle class="n" cx="374" cy="1182" r="4.8"/></g>
<g id="n17k"><circle class="n" cx="428.4" cy="1197.3" r="4.8"/></g>
<g id="n17l"><circle class="n" cx="472.1" cy="1183.7" r="4.8"/></g>
<g id="n17m"><circle class="n" cx="493.9" cy="1214.3" r="4.8"/></g>
<g id="n17n"><circle class="n" cx="458.8" cy="1232" r="4.8"/></g>
</g>
<g id="nodes18">
<g id="n18a"><circle class="n" cx="671.9" cy="1005.3" r="4.8"/></g>
<g id="n18b"><circle class="n" cx="701.9" cy="1061.7" r="4.8"/></g>
<g id="n18c"><circle class="n" cx="673.7" cy="1123.3" r="4.8"/></g>
<g id="n18d"><circle class="n" cx="775.7" cy="1107.7" r="4.8"/></g>
<g id="n18e"><circle class="n" cx="704.4" cy="1175" r="4.8"/></g>
<g id="n18f"><circle class="n" cx="878" cy="1127.7" r="4.8"/></g>
<g id="n18g"><circle class="n" cx="917.1" cy="1067" r="4.8"/></g>
<g id="n18h"><circle class="n" cx="983.9" cy="1068" r="4.8"/></g>
<g id="n18i"><circle class="n" cx="1053.7" cy="1001" r="4.8"/></g>
<g id="n18j"><circle class="n" cx="1082.2" cy="1072.7" r="4.8"/></g>
<g id="n18k"><circle class="n" cx="1072.7" cy="1119" r="4.8"/></g>
<g id="n18l"><circle class="n" cx="939" cy="1155.3" r="4.8"/></g>
<g id="n18m"><circle class="n" cx="1000.7" cy="1161" r="4.8"/></g>
<g id="n18n"><circle class="n" cx="931.7" cy="1229.7" r="4.8"/></g>
</g>
<g id="nodes19">
<g id="n19a"><circle class="n" cx="345.2" cy="1318.7" r="4.8"/></g>
<g id="n19b"><circle class="n" cx="456.5" cy="1347.3" r="4.8"/></g>
<g id="n19c"><circle class="n" cx="191.3" cy="1358.3" r="4.8"/></g>
<g id="n19d"><circle class="n" cx="70.7" cy="1391.3" r="4.8"/></g>
<g id="n19e"><circle class="n" cx="354.8" cy="1383.7" r="4.8"/></g>
<g id="n19f"><circle class="n" cx="462.4" cy="1408.7" r="4.8"/></g>
<g id="n19g"><circle class="n" cx="196.1" cy="1441.3" r="4.8"/></g>
<g id="n19h"><circle class="n" cx="327.4" cy="1446.3" r="4.8"/></g>
<g id="n19i"><circle class="n" cx="234.6" cy="1542.7" r="4.8"/></g>
<g id="n19j"><circle class="n" cx="413.6" cy="1542" r="4.8"/></g>
</g>
<g id="nodes20">
<g id="n20a"><circle class="n" cx="656.2" cy="1307" r="4.8"/></g>
<g id="n20b"><circle class="n" cx="672.6" cy="1347.3" r="4.8"/></g>
<g id="n20c"><circle class="n" cx="654.4" cy="1392.3" r="4.8"/></g>
<g id="n20d"><circle class="n" cx="698.2" cy="1388.7" r="4.8"/></g>
<g id="n20e"><circle class="n" cx="720.5" cy="1376.3" r="4.8"/></g>
<g id="n20f"><circle class="n" cx="748.3" cy="1369.7" r="4.8"/></g>
<g id="n20g"><circle class="n" cx="822.8" cy="1355.3" r="4.8"/></g>
<g id="n20h"><circle class="n" cx="775.3" cy="1384.7" r="4.8"/></g>
<g id="n20i"><circle class="n" cx="738.4" cy="1419.3" r="4.8"/></g>
<g id="n20j"><circle class="n" cx="772" cy="1422.3" r="4.8"/></g>
<g id="n20k"><circle class="n" cx="780" cy="1448.3" r="4.8"/></g>
<g id="n20l"><circle class="n" cx="703.7" cy="1455.3" r="4.8"/></g>
<g id="n20m"><circle class="n" cx="725.2" cy="1455.3" r="4.8"/></g>
<g id="n20n"><circle class="n" cx="735.5" cy="1475.7" r="4.8"/></g>
<g id="n20o"><circle class="n" cx="705.1" cy="1502.3" r="4.8"/></g>
<g id="n20p"><circle class="n" cx="673.7" cy="1531.3" r="4.8"/></g>
<g id="n20q"><circle class="n" cx="703.7" cy="1549" r="4.8"/></g>
<g id="n20r"><circle class="n" cx="1089.1" cy="1438.7" r="4.8"/></g>
<g id="n20s"><circle class="n" cx="1081.5" cy="1481" r="4.8"/></g>
</g>
</svg>
